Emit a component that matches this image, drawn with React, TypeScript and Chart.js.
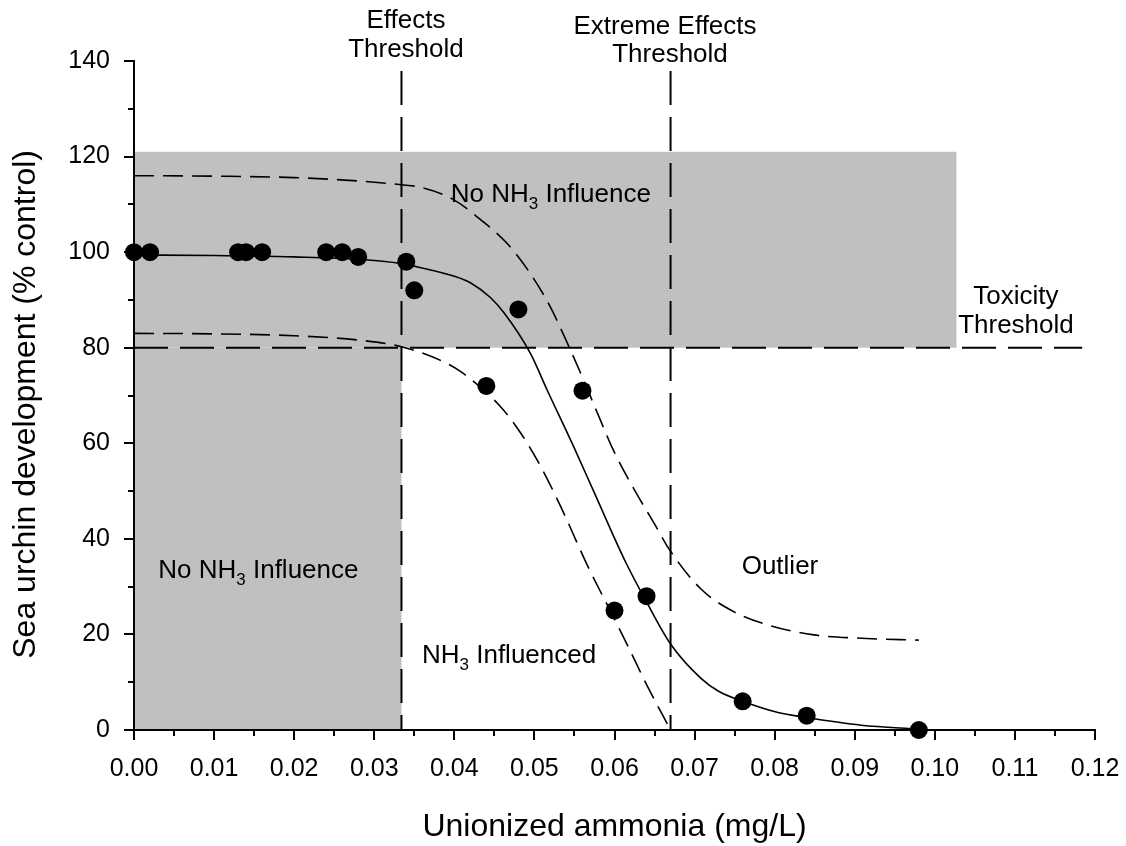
import { useEffect, useRef } from "react";
import { Chart, registerables } from "chart.js";

Chart.register(...registerables);

// ---- Data ----
const pointX = [0, 0.002, 0.013, 0.014, 0.016, 0.024, 0.026, 0.028, 0.034, 0.035, 0.044, 0.048, 0.056, 0.06, 0.064, 0.076, 0.084, 0.098];
const pointY = [100, 100, 100, 100, 100, 100, 100, 99, 98, 92, 72, 88, 71, 25, 28, 6, 3, 0];

const fitX = [0, 0.01, 0.02, 0.028, 0.0334, 0.0357, 0.0399, 0.042, 0.0445, 0.0462, 0.0495, 0.0516, 0.0549, 0.0576, 0.0614, 0.064, 0.067, 0.0708, 0.073, 0.076, 0.0803, 0.084, 0.0908, 0.098];
const fitY = [99.4, 99.3, 99.0, 98.5, 97.6, 96.8, 95.0, 93.6, 90.5, 87.3, 78.8, 71.1, 59.3, 49.2, 35.1, 26.8, 18.0, 10.8, 8.1, 6.0, 3.7, 2.6, 1.0, 0.2];

const upperX = [0, 0.01, 0.02, 0.028, 0.0334, 0.0357, 0.0399, 0.0432, 0.0466, 0.0495, 0.052, 0.0541, 0.056, 0.0578, 0.0599, 0.0624, 0.0649, 0.067, 0.0708, 0.0745, 0.0791, 0.0849, 0.0908, 0.098];
const upperY = [116, 115.9, 115.6, 114.9, 114.1, 113.6, 111.0, 106.9, 101.8, 95.5, 88.5, 81.0, 73.8, 66.6, 58.4, 50.5, 43.4, 37.4, 29.5, 25.1, 22.0, 19.9, 19.2, 18.8];

const lowerX = [0, 0.01, 0.02, 0.028, 0.0334, 0.0382, 0.0408, 0.0458, 0.0483, 0.0508, 0.0533, 0.0566, 0.06, 0.0616, 0.0641, 0.067];
const lowerY = [83, 82.9, 82.5, 81.6, 80.2, 77.4, 75.0, 67.6, 62.1, 55.1, 46.7, 34.5, 23.2, 17.8, 9.2, 0];

const xTicks = [0, 0.01, 0.02, 0.03, 0.04, 0.05, 0.06, 0.07, 0.08, 0.09, 0.1, 0.11, 0.12];
const yTicks = [0, 20, 40, 60, 80, 100, 120, 140];

const effectsThreshold = 0.0334;
const extremeThreshold = 0.067;
const toxicityThreshold = 80;
const thresholdLineTop = 137.9;
const toxicityLineEnd = 0.1184;

const shadeUpperX = [0, 0.1027];
const shadeUpperY = [80, 121];
const shadeLowerX = [0, effectsThreshold];
const shadeLowerY = [0, 80];

const FONT = "'Liberation Sans', Arial, Helvetica, sans-serif";

type Part = { t: string; sub?: boolean };
type Label = { parts: Part[]; x: number; y: number; align: "left" | "center" };

const labels: Label[] = [
  { parts: [{ t: "Effects" }], x: 0.03396, y: 146.9, align: "center" },
  { parts: [{ t: "Threshold" }], x: 0.03396, y: 140.8, align: "center" },
  { parts: [{ t: "Extreme Effects" }], x: 0.06631, y: 145.7, align: "center" },
  { parts: [{ t: "Threshold" }], x: 0.06693, y: 139.8, align: "center" },
  { parts: [{ t: "Toxicity" }], x: 0.11013, y: 89.2, align: "center" },
  { parts: [{ t: "Threshold" }], x: 0.11013, y: 83.0, align: "center" },
  { parts: [{ t: "No NH" }, { t: "3", sub: true }, { t: " Influence" }], x: 0.03955, y: 110.5, align: "left" },
  { parts: [{ t: "No NH" }, { t: "3", sub: true }, { t: " Influence" }], x: 0.00303, y: 31.9, align: "left" },
  { parts: [{ t: "NH" }, { t: "3", sub: true }, { t: " Influenced" }], x: 0.03596, y: 14.0, align: "left" },
  { parts: [{ t: "Outlier" }], x: 0.07588, y: 32.6, align: "left" },
];

const toXY = (xs: number[], ys: number[]) => xs.map((x, i) => ({ x, y: ys[i] }));

const shadePlugin = {
  id: "shade",
  beforeDraw(chart: any) {
    const { ctx, scales } = chart;
    const xs = scales.x;
    const ys = scales.y;
    ctx.save();
    ctx.fillStyle = "#c0c0c0";
    const boxes = [
      [shadeUpperX, shadeUpperY],
      [shadeLowerX, shadeLowerY],
    ];
    for (const [bx, by] of boxes) {
      const l = xs.getPixelForValue(bx[0]);
      const r = xs.getPixelForValue(bx[1]);
      const t = ys.getPixelForValue(by[1]);
      const b = ys.getPixelForValue(by[0]);
      ctx.fillRect(l, t, r - l, b - t);
    }
    ctx.restore();
  },
};

const tickPlugin = {
  id: "tickMarks",
  afterDraw(chart: any) {
    const { ctx, scales, chartArea } = chart;
    const xs = scales.x;
    const ys = scales.y;
    ctx.save();
    ctx.strokeStyle = "#000";
    ctx.lineWidth = 2;
    ctx.beginPath();
    for (let i = 0; i <= 24; i++) {
      const v = i * 0.005;
      const px = Math.round(xs.getPixelForValue(v));
      const len = i % 2 === 0 ? 10 : 6;
      ctx.moveTo(px, chartArea.bottom);
      ctx.lineTo(px, chartArea.bottom + len);
    }
    for (let i = 0; i <= 14; i++) {
      const v = i * 10;
      const py = Math.round(ys.getPixelForValue(v));
      const len = i % 2 === 0 ? 10 : 6;
      ctx.moveTo(chartArea.left, py);
      ctx.lineTo(chartArea.left - len, py);
    }
    ctx.stroke();

    // annotation texts
    ctx.fillStyle = "#000";
    ctx.textBaseline = "alphabetic";
    const mainSize = 26;
    const subSize = 17;
    for (const lab of labels) {
      const px = xs.getPixelForValue(lab.x);
      const py = ys.getPixelForValue(lab.y);
      let total = 0;
      const widths = lab.parts.map((p) => {
        ctx.font = `${p.sub ? subSize : mainSize}px ${FONT}`;
        const w = ctx.measureText(p.t).width;
        total += w;
        return w;
      });
      let cx = lab.align === "center" ? px - total / 2 : px;
      ctx.textAlign = "left";
      lab.parts.forEach((p, i) => {
        ctx.font = `${p.sub ? subSize : mainSize}px ${FONT}`;
        ctx.fillText(p.t, cx, p.sub ? py + 7 : py);
        cx += widths[i];
      });
    }
    ctx.restore();
  },
};

export default function App() {
  const canvasRef = useRef<HTMLCanvasElement | null>(null);

  useEffect(() => {
    if (!canvasRef.current) return;
    const dashedThreshold = {
      borderColor: "#000",
      borderWidth: 2,
      borderDash: [34, 12],
      pointRadius: 0,
      showLine: true,
      fill: false,
      tension: 0,
      clip: false as any,
    };
    const curveDash = {
      borderColor: "#000",
      borderWidth: 1.6,
      borderDash: [20, 9],
      pointRadius: 0,
      showLine: true,
      fill: false,
      cubicInterpolationMode: "monotone" as const,
      clip: false as any,
    };
    const hiddenTicks = {
      display: true,
      drawOnChartArea: false,
      drawTicks: true,
      tickLength: 24,
      tickColor: "rgba(0,0,0,0)",
    };
    const chart = new Chart(canvasRef.current, {
      type: "line",
      data: {
        datasets: [
          {
            label: "Observations",
            data: toXY(pointX, pointY),
            showLine: false,
            pointRadius: 9,
            pointBackgroundColor: "#000",
            pointBorderColor: "#000",
            pointBorderWidth: 0,
            borderColor: "#000",
            clip: false as any,
          },
          {
            label: "Fit",
            data: toXY(fitX, fitY),
            borderColor: "#000",
            borderWidth: 1.6,
            pointRadius: 0,
            fill: false,
            cubicInterpolationMode: "monotone",
            clip: false as any,
          },
          { label: "Upper bound", data: toXY(upperX, upperY), ...curveDash },
          { label: "Lower bound", data: toXY(lowerX, lowerY), ...curveDash },
          {
            label: "Effects Threshold",
            data: [
              { x: effectsThreshold, y: thresholdLineTop },
              { x: effectsThreshold, y: 0 },
            ],
            ...dashedThreshold,
          },
          {
            label: "Extreme Effects Threshold",
            data: [
              { x: extremeThreshold, y: thresholdLineTop },
              { x: extremeThreshold, y: 0 },
            ],
            ...dashedThreshold,
          },
          {
            label: "Toxicity Threshold",
            data: [
              { x: 0, y: toxicityThreshold },
              { x: toxicityLineEnd, y: toxicityThreshold },
            ],
            ...dashedThreshold,
          },
        ] as any,
      },
      options: {
        responsive: false,
        devicePixelRatio: 1,
        animation: false,
        events: [],
        layout: { padding: { top: 61, right: 31, bottom: 0, left: 0 } },
        plugins: {
          legend: { display: false },
          tooltip: { enabled: false },
        },
        scales: {
          x: {
            type: "linear",
            min: 0,
            max: 0.12,
            grid: hiddenTicks,
            border: { display: true, color: "#000", width: 2 },
            afterBuildTicks: (scale: any) => {
              scale.ticks = xTicks.map((v) => ({ value: v }));
            },
            ticks: {
              color: "#000",
              font: { family: FONT, size: 25 },
              padding: 0,
              maxRotation: 0,
              autoSkip: false,
              callback: (v: any) => Number(v).toFixed(2),
            },
            title: {
              display: true,
              text: "Unionized ammonia (mg/L)",
              color: "#000",
              font: { family: FONT, size: 32 },
              padding: { top: 0, bottom: 0 },
            },
            afterFit: (scale: any) => {
              scale.height = 116;
            },
          },
          y: {
            type: "linear",
            min: 0,
            max: 140,
            grid: hiddenTicks,
            border: { display: true, color: "#000", width: 2 },
            afterBuildTicks: (scale: any) => {
              scale.ticks = yTicks.map((v) => ({ value: v }));
            },
            ticks: {
              color: "#000",
              font: { family: FONT, size: 25 },
              padding: 0,
              autoSkip: false,
              callback: (v: any) => String(v),
            },
            title: {
              display: true,
              text: "Sea urchin development (% control)\u00a0\u00a0",
              color: "#000",
              font: { family: FONT, size: 32 },
              padding: { top: 7, bottom: 0 },
            },
            afterFit: (scale: any) => {
              scale.width = 134;
            },
          },
        },
      } as any,
      plugins: [shadePlugin, tickPlugin],
    });
    return () => chart.destroy();
  }, []);

  return (
    <div style={{ position: "absolute", left: 0, top: 0, width: 1126, height: 846, background: "#fff" }}>
      <canvas ref={canvasRef} width={1126} height={846} style={{ width: 1126, height: 846, display: "block" }} />
    </div>
  );
}
